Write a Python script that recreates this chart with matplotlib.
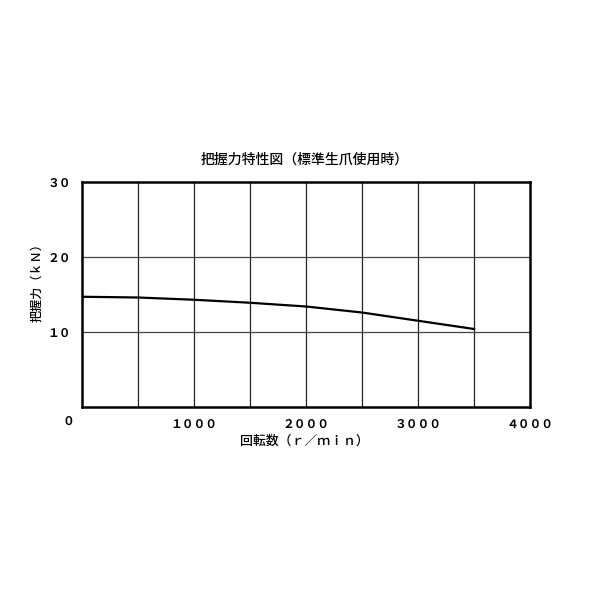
import matplotlib
matplotlib.use("Agg")
from matplotlib import pyplot as plt

plt.rcParams['font.family'] = ['Noto Sans CJK JP', 'DejaVu Sans']

# 回転数 (r/min) と 把握力 (kN)
speed = [0, 500, 1000, 1500, 2000, 2500, 3000, 3500]
force = [14.7, 14.6, 14.3, 13.9, 13.4, 12.6, 11.5, 10.4]

x_ticks = [1000, 2000, 3000, 4000]
x_labels = ['１０００', '２０００', '３０００', '４０００']
y_ticks = [10, 20, 30]
y_labels = ['１０', '２０', '３０']

fig = plt.figure(figsize=(6, 6), dpi=100)
ax = fig.add_axes([82 / 600, 193 / 600, 448 / 600, 225 / 600])

ax.plot(speed, force, color='black', lw=1.6)

ax.set_xlim(0, 4000)
ax.set_ylim(0, 30)

# grid
for gx in range(500, 4000, 500):
    ax.axvline(gx, color='#222222', lw=0.9, zorder=0)
for gy in [10, 20]:
    ax.axhline(gy, color='#444444', lw=0.9, zorder=0)

for s in ax.spines.values():
    s.set_linewidth(1.8)
    s.set_color('black')

ax.set_xticks(x_ticks)
ax.set_xticklabels(x_labels, fontsize=8.5, fontweight='bold')
ax.set_yticks(y_ticks)
ax.set_yticklabels(y_labels, fontsize=8.5, fontweight='bold')
ax.tick_params(length=0, pad=8)

# origin label
fig.text(68 / 600, 1 - 421 / 600, '０', fontsize=8.5, fontweight='bold',
         ha='center', va='center')

fig.text(305 / 600, 1 - 160 / 600, '把握力特性図（標準生爪使用時）', fontsize=10,
         fontweight='medium', ha='center', va='center')
fig.text(304 / 600, 1 - 441 / 600, '回転数（ｒ／ｍｉｎ）', fontsize=9.3,
         fontweight='medium', ha='center', va='center')
fig.text(37 / 600, 1 - 280 / 600, '把握力（ｋＮ）', fontsize=8.7,
         fontweight='medium', ha='center', va='center', rotation=90)

fig.savefig('out.png', dpi=100)
